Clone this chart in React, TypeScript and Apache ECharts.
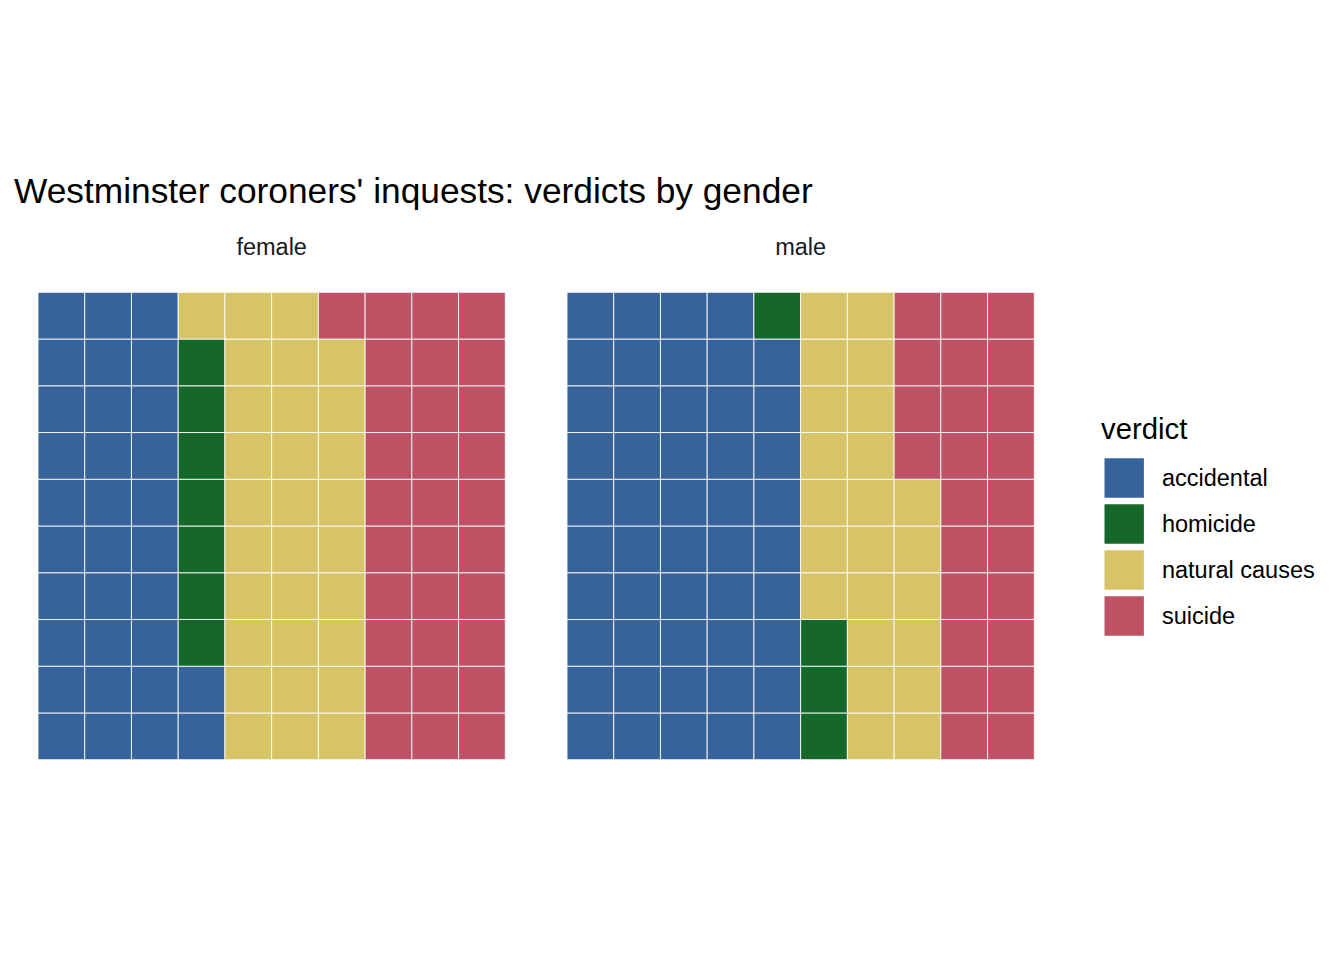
import React, { useEffect, useRef } from "react";
import * as echarts from "echarts";

const verdicts = ["accidental", "homicide", "natural causes", "suicide"];
const colors = ["#366399", "#15682A", "#D7C467", "#BF5164"];
const genders = ["female", "male"];
const femaleCounts = [32, 7, 30, 31];
const maleCounts = [49, 4, 23, 24];
const gridRows = 10;
const gridCols = 10;

// Build waffle cells: fill columns bottom-to-top, left-to-right
function buildCells(counts: number[]) {
  const cells: number[][][] = verdicts.map(() => []);
  let idx = 0;
  counts.forEach((c, k) => {
    for (let i = 0; i < c; i++) {
      const col = Math.floor(idx / gridRows);
      const row = idx % gridRows;
      cells[k].push([col, row]);
      idx++;
    }
  });
  return cells;
}

export default function App() {
  const ref = useRef<HTMLDivElement>(null);
  useEffect(() => {
    if (!ref.current) return;
    const chart = echarts.init(ref.current, null, { renderer: "svg" });
    const font = "Liberation Sans, Arial, Helvetica, sans-serif";
    const grids = [
      { left: 38, top: 292.3, width: 467.3, height: 467.4 },
      { left: 567, top: 292.3, width: 467.3, height: 467.4 },
    ];
    const allCounts = [femaleCounts, maleCounts];
    const series: any[] = [];
    allCounts.forEach((counts, gi) => {
      const cells = buildCells(counts);
      verdicts.forEach((v, k) => {
        series.push({
          type: "custom",
          name: v,
          xAxisIndex: gi,
          yAxisIndex: gi,
          itemStyle: { color: colors[k] },
          data: cells[k],
          renderItem: (params: any, api: any) => {
            const p = api.coord([api.value(0), api.value(1) + 1]);
            const s = api.size([1, 1]);
            return {
              type: "rect",
              shape: { x: p[0], y: p[1], width: s[0], height: s[1] },
              style: { fill: api.visual("color"), stroke: "rgba(255,255,255,0.85)", lineWidth: 1 },
            };
          },
        });
      });
    });
    const axisCommon = { type: "value", min: 0, max: gridCols, show: false };
    chart.setOption({
      animation: false,
      backgroundColor: "#fff",
      grid: grids,
      xAxis: grids.map((_, i) => ({ ...axisCommon, gridIndex: i })),
      yAxis: grids.map((_, i) => ({ ...axisCommon, max: gridRows, gridIndex: i })),
      legend: {
        orient: "vertical",
        left: 1104.5,
        top: 458.3,
        itemWidth: 39.4,
        itemHeight: 39.4,
        itemGap: 6.6,
        icon: "rect",
        padding: 0,
        selectedMode: false,
        data: verdicts,
        textStyle: { fontSize: 23.5, color: "#000", fontFamily: font, padding: [3, 0, 0, 13] },
      },
      graphic: [
        {
          type: "text",
          x: 14,
          y: 190,
          style: {
            text: "Westminster coroners' inquests: verdicts by gender",
            font: `35.3px ${font}`,
            fill: "#000",
            textVerticalAlign: "middle",
          },
        },
        {
          type: "text",
          x: 1101,
          y: 428,
          style: {
            text: "verdict",
            font: `29.3px ${font}`,
            fill: "#000",
            textVerticalAlign: "middle",
          },
        },
        ...genders.map((g, i) => ({
          type: "text",
          x: grids[i].left + grids[i].width / 2,
          y: 246.5,
          style: {
            text: g,
            font: `23.5px ${font}`,
            fill: "#1A1A1A",
            textAlign: "center",
            textVerticalAlign: "middle",
          },
        })),
      ],
      series,
    });
    return () => chart.dispose();
  }, []);
  return (
    <div
      ref={ref}
      style={{ position: "fixed", left: 0, top: 0, width: 1344, height: 960 }}
    />
  );
}
